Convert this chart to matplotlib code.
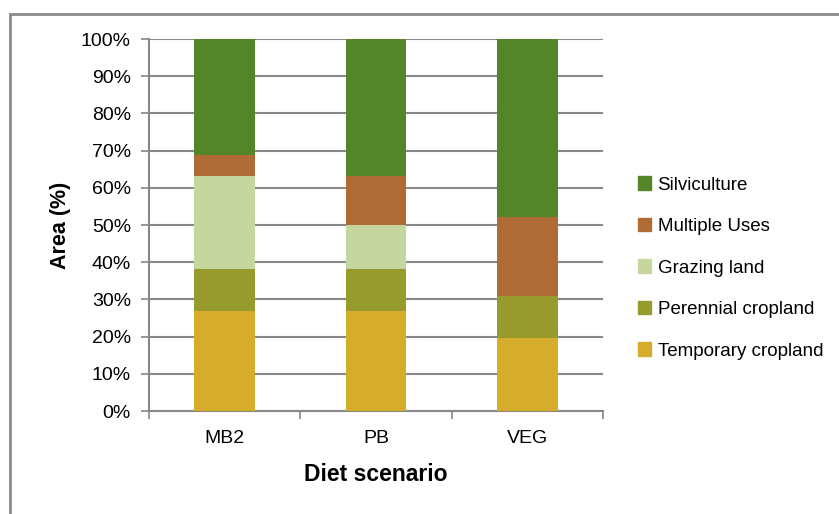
import matplotlib

matplotlib.use("Agg")
import matplotlib.pyplot as plt
from matplotlib.patches import Patch, Rectangle

plt.rcParams.update(
    {
        "font.family": "Liberation Sans",
        "font.size": 14,
    }
)

# --- data (percent of total area) ---------------------------------------
scenarios = ["MB2", "PB", "VEG"]
temporary = [27.0, 27.0, 19.7]
perennial = [11.1, 11.1, 11.3]
grazing = [25.2, 11.9, 0.0]
multiple = [5.5, 13.3, 21.1]
silviculture = [31.2, 36.7, 47.9]

series = [
    ("Temporary cropland", temporary, "#D6AC2C"),
    ("Perennial cropland", perennial, "#979B2D"),
    ("Grazing land", grazing, "#C5D79F"),
    ("Multiple Uses", multiple, "#B06B35"),
    ("Silviculture", silviculture, "#548629"),
]

GRID = "#888888"

fig = plt.figure(figsize=(8.39, 5.14), dpi=100)
ax = fig.add_axes([149 / 839, 1 - 411 / 514, 454 / 839, 372 / 514])

x = list(range(len(scenarios)))
bottom = [0.0] * len(scenarios)
for label, vals, color in series:
    ax.bar(x, vals, width=0.4, bottom=bottom, color=color, label=label,
           zorder=3, linewidth=0)
    bottom = [b + v for b, v in zip(bottom, vals)]

ax.set_xlim(-0.5, 2.5)
ax.set_ylim(0, 100)
ax.set_yticks(range(0, 101, 10))
ax.set_yticklabels([f"{v}%" for v in range(0, 101, 10)])
ax.yaxis.grid(True, color=GRID, linewidth=1.5, zorder=1)

# category boundaries get the tick marks, names sit between them
ax.set_xticks([-0.5, 0.5, 1.5, 2.5])
ax.set_xticklabels([])
ax.set_xticks(x, minor=True)
ax.set_xticklabels(scenarios, minor=True)
ax.tick_params(axis="x", which="minor", length=0, pad=14)
ax.tick_params(axis="x", which="major", length=6, width=1.2, color=GRID)
ax.tick_params(axis="y", length=6, width=1.2, color=GRID, pad=7)

for side in ("top", "right"):
    ax.spines[side].set_visible(False)
for side in ("left", "bottom"):
    ax.spines[side].set_color(GRID)
    ax.spines[side].set_linewidth(1.5)

ax.set_ylabel("Area (%)", fontsize=15.5, fontweight="bold", labelpad=7)
ax.set_xlabel("Diet scenario", fontsize=16.5, fontweight="bold", labelpad=11)

handles = [Patch(color=c, label=l) for l, _, c in series][::-1]
fig.legend(
    handles=handles,
    loc="center left",
    bbox_to_anchor=(621 / 839, 1 - 268 / 514),
    frameon=False,
    fontsize=13.5,
    handlelength=0.7,
    handleheight=0.7,
    handletextpad=0.35,
    labelspacing=1.3,
)

# outer chart frame (runs off the right and bottom edges)
fig.patches.append(
    Rectangle((10 / 839, -0.05), 1.1, 1 - 14 / 514 + 0.05,
              transform=fig.transFigure, fill=False,
              edgecolor="#8a8a8a", linewidth=2)
)

fig.savefig("out.png", dpi=100)
